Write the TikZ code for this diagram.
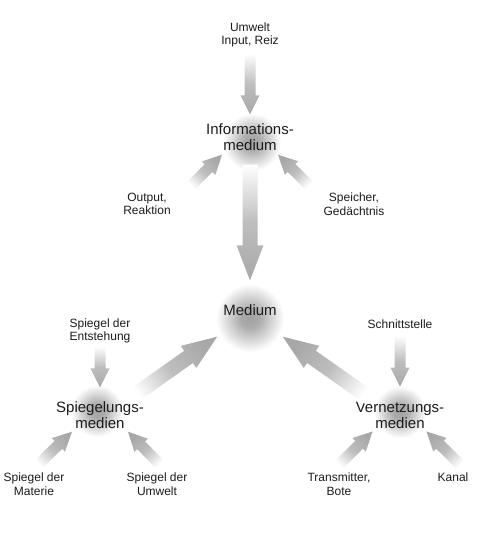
\documentclass[tikz,border=0pt]{standalone}
\usepackage{fontspec}
\setmainfont{Liberation Sans}
\usepackage{tikz}
\usetikzlibrary{calc, backgrounds}
\definecolor{arrowgray}{HTML}{A8A8A8}
\definecolor{glowgray}{HTML}{A2A2A2}
\definecolor{textgray}{HTML}{1C1C1C}
\pgfdeclareradialshading{glowshade}{\pgfpoint{0bp}{0bp}}{%
	color(0bp)=(glowgray); color(7bp)=(glowgray!90!white);
	color(17bp)=(glowgray!40!white); color(25bp)=(white); color(50bp)=(white)}
\tikzset{
	labelnode/.style={
			align=center,
			font=\fontsize{12}{13.5}\selectfont,
			text=textgray,
			inner sep=1pt
		},
	hubnode/.style={
			align=center,
			font=\fontsize{15}{16}\selectfont,
			text=textgray,
			inner sep=1pt
		},
	glow/.style={
			shading=glowshade
		},
	smallarrow/.code={\def\fashaft{5.5pt}\def\fahalf{9.5pt}\def\fahead{19pt}},
	bigarrow/.code={\def\fashaft{7.5pt}\def\fahalf{13.5pt}\def\fahead{35pt}},
	arrowshade/.style={
			top color=arrowgray,
			bottom color=white,
			middle color=arrowgray!75!white
		}
}
\newcommand{\fadearrow}[3][smallarrow]{%
	\begin{scope}[#1]
		\coordinate (fa-t) at (#2);
		\coordinate (fa-h) at (#3);
		\coordinate (fa-b) at ($(fa-h)!\fahead!(fa-t)$);
		\pgfmathanglebetweenpoints{\pgfpointanchor{fa-t}{center}}{\pgfpointanchor{fa-h}{center}}
		\pgfmathsetmacro{\faang}{\pgfmathresult-90}
		\shade[arrowshade, shading angle=\faang]
			($(fa-t)!\fashaft!90:(fa-h)$) -- ($(fa-b)!\fashaft!90:(fa-h)$)
			-- ($(fa-b)!\fahalf!90:(fa-h)$) -- (fa-h)
			-- ($(fa-b)!\fahalf!-90:(fa-h)$) -- ($(fa-b)!\fashaft!-90:(fa-h)$)
			-- ($(fa-t)!\fashaft!-90:(fa-h)$) -- cycle;
	\end{scope}}

\begin{document}
\begin{tikzpicture}[x=1pt, y=-1pt]

	\useasboundingbox (0,0) rectangle (500,545);

	\node[labelnode] (umwelt) at (250,35) {Umwelt\\Input, Reiz};
	\node[hubnode] (info) at (250,137) {Informations-\\medium};
	\node[labelnode] (output) at (147,204) {Output,\\Reaktion};
	\node[labelnode] (speicher) at (354,204) {Speicher,\\Gedächtnis};
	\node[hubnode] (medium) at (250,310) {Medium};

	\node[labelnode] (entst) at (100,331) {Spiegel der\\Entstehung};
	\node[hubnode] (spieg) at (100,415) {Spiegelungs-\\medien};
	\node[labelnode] (materie) at (34,484) {Spiegel der\\Materie};
	\node[labelnode] (sumwelt) at (157,484) {Spiegel der\\Umwelt};

	\node[labelnode] (schnitt) at (400,324) {Schnittstelle};
	\node[hubnode] (vernetz) at (400,415) {Vernetzungs-\\medien};
	\node[labelnode] (trans) at (339,484) {Transmitter,\\Bote};
	\node[labelnode] (kanal) at (453,477) {Kanal};

	\begin{scope}[on background layer]
		\fill[white] (0,0) rectangle (500,545);
		\shade[glow] ([shift={(2,5)}]info.center) circle (29pt);
		\shade[glow] ([shift={(0,8)}]medium.center) circle (34pt);
		\shade[glow] ([shift={(-3,-4)}]spieg.center) circle (26pt);
		\shade[glow] ([shift={(0,-3)}]vernetz.center) circle (26pt);
	\end{scope}

	\fadearrow{[shift={(0,5)}]umwelt.south}{[shift={(0,-8)}]info.north}
	\fadearrow{[shift={(18,-5)}]output.north east}{[shift={(17,3)}]info.south west}
	\fadearrow{[shift={(-12,-5)}]speicher.north west}{[shift={(-17,3)}]info.south east}
	\fadearrow[bigarrow]{[shift={(0,13)}]info.south}{[shift={(0,-23)}]medium.north}

	\fadearrow{[shift={(0,2)}]entst.south}{[shift={(0,-13)}]spieg.north}
	\fadearrow{[shift={(3,-6)}]materie.north}{[shift={(17,2)}]spieg.south west}
	\fadearrow{[shift={(4,-6)}]sumwelt.north}{[shift={(-17,2)}]spieg.south east}
	\fadearrow[bigarrow]{[shift={(-15,-2)}]spieg.north east}{[shift={(-5,20)}]medium.south west}

	\fadearrow{[shift={(0,6)}]schnitt.south}{[shift={(0,-14)}]vernetz.north}
	\fadearrow{[shift={(-2,-5)}]trans.north}{[shift={(18,2)}]vernetz.south west}
	\fadearrow{[shift={(9,-5)}]kanal.north}{[shift={(-19,2)}]vernetz.south east}
	\fadearrow[bigarrow]{[shift={(16,-2)}]vernetz.north west}{[shift={(5,20)}]medium.south east}

\end{tikzpicture}
\end{document}
